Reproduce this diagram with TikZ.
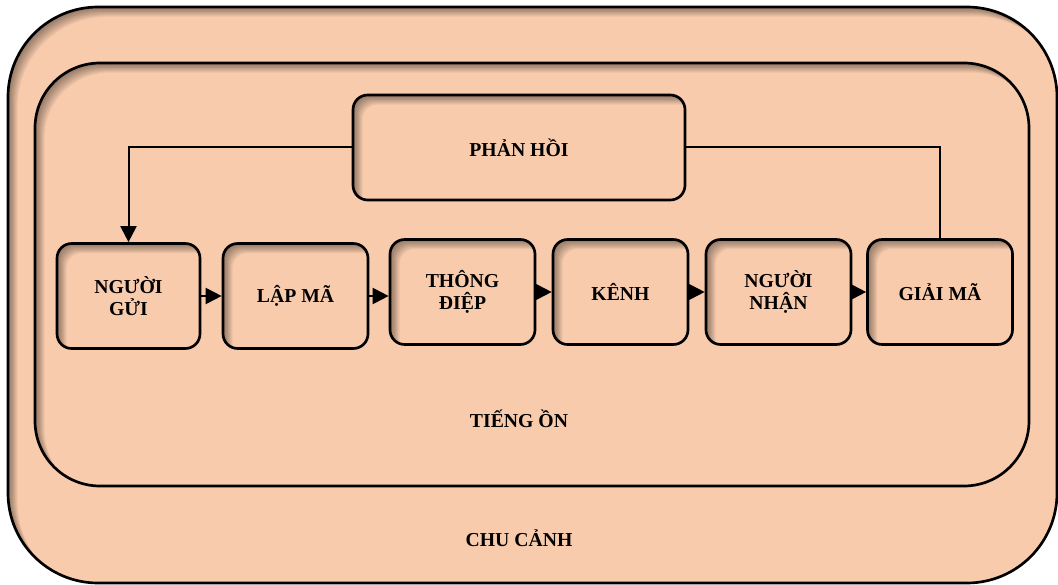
\documentclass[tikz,border=0pt]{standalone}
\usepackage{fontspec}
\setmainfont{Liberation Serif}
\usetikzlibrary{arrows.meta}

\definecolor{dao}{HTML}{F8CBAD}

\begin{document}
\begin{tikzpicture}[x=0.75pt, y=-0.75pt,
    every node/.style={font=\bfseries\fontsize{14.8pt}{16.3pt}\selectfont, align=center, inner sep=0pt},
    bong/.style={path picture={
        \foreach \d in {1,...,8}{
          \fill[black, opacity=0.06, even odd rule]
            ([shift={(-30pt,30pt)}]path picture bounding box.north west) rectangle ([shift={(30pt,-30pt)}]path picture bounding box.south east)
            [rounded corners=#1] ([shift={({\d*0.9pt},{-\d*0.9pt})}]path picture bounding box.north west) rectangle ([shift={({\d*0.9pt},{-\d*0.9pt})}]path picture bounding box.south east);
        }}},
    khung/.style={draw, line width=2pt, fill=dao, rounded corners=#1, bong=#1},
    hop/.style={khung=11pt, minimum width=108.75pt, minimum height=78.75pt},
    noi/.style={line width=1.5pt, -{Triangle[length=12pt,width=12pt]}}]
    \useasboundingbox (0,0) rectangle (1058,585);

    % khung ngoai va khung trong
    \node[khung=67.5pt, minimum width=786.75pt, minimum height=432pt] (chucanh) at (532.5,295) {};
    \node[khung=48.75pt, minimum width=745.5pt, minimum height=317.25pt] (tiengon) at (532,274.5) {};
    \node (nhanchucanh) at (519,538) {CHU CẢNH};
    \node (nhantiengon) at (519,419) {TIẾNG ỒN};

    % cac buoc
    \node[hop, minimum width=107.25pt] (nguoigui) at (128.5,296) {NGƯỜI\\GỬI};
    \node[hop] (lapma) at (295.5,296) {LẬP MÃ};
    \node[hop] (thongdiep) at (462.5,292) {THÔNG\\ĐIỆP};
    \node[hop, minimum width=101.25pt] (kenh) at (620.5,292) {KÊNH};
    \node[hop] (nguoinhan) at (778.5,292) {NGƯỜI\\NHẬN};
    \node[hop] (giaima) at (940,292) {GIẢI MÃ};
    \node[hop, minimum width=249pt] (phanhoi) at (519,147.5) {PHẢN HỒI};

    \foreach \a/\b in {nguoigui/lapma, lapma/thongdiep, thongdiep/kenh, kenh/nguoinhan, nguoinhan/giaima}
        \draw[noi] (\a.east) -- (\a.east -| \b.west);

    % vong phan hoi
    \draw[noi] (phanhoi.west) -| (nguoigui.north);
    \draw[line width=1.5pt] (phanhoi.east) -| (giaima.north);
\end{tikzpicture}
\end{document}
